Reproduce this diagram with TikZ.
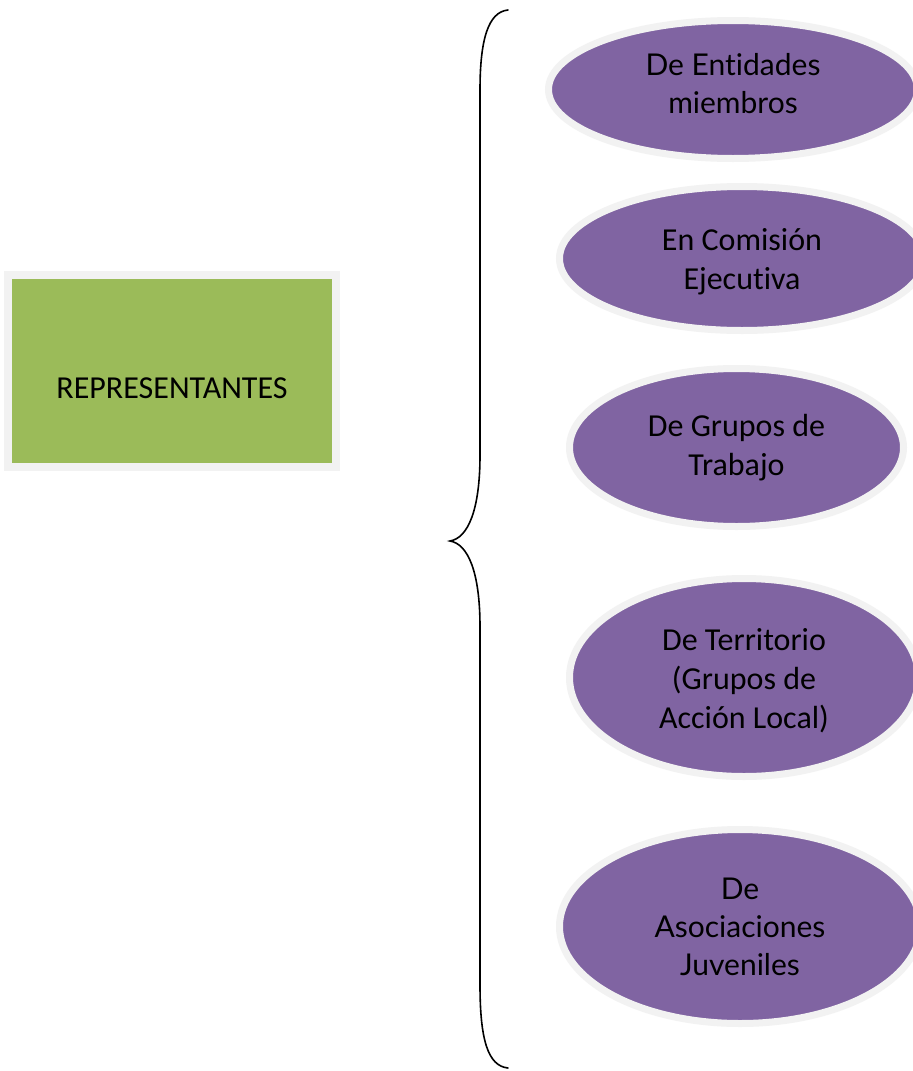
\documentclass[tikz,border=0pt]{standalone}
\usepackage{fontspec}
\setmainfont[Ligatures={NoCommon}]{Carlito}
\newfontfamily\gillish[Ligatures={NoCommon}]{Lato}
\usetikzlibrary{shapes.geometric}
\definecolor{purpfill}{HTML}{8064A2}
\definecolor{greenfill}{HTML}{9BBB59}
\definecolor{ringgray}{HTML}{F2F2F2}
\tikzset{
  oval/.style={ellipse, fill=purpfill, draw=ringgray, line width=7pt, inner sep=0pt},
  ovaltext/.style={align=center, text=black, inner sep=0pt, font=\fontsize{32}{39}\selectfont},
  gilltext/.style={ovaltext, font=\gillish\fontsize{30}{38}\selectfont},
  mainbox/.style={rectangle, fill=greenfill, draw=ringgray, line width=8pt, inner sep=0pt},
  bracepath/.style={draw=black, line width=1.6pt, line cap=round}
}
\begin{document}
\begin{tikzpicture}[x=1pt,y=-1pt]
\useasboundingbox (0,0) rectangle (913,1071);
\fill[white] (0,0) rectangle (913,1071);
\clip (0,0) rectangle (913,1071);
% main box
\node[mainbox, minimum width=328pt, minimum height=192pt] (rep) at (172,371) {};
\node[ovaltext, yshift=-17pt] (reptext) at (rep.center) {REPRESENTANTES};
% ovals
\node[oval, minimum width=369pt, minimum height=138pt] (o1) at (733,89.5) {};
\node[gilltext, yshift=6pt] (t1) at (o1.center) {De Entidades\\miembros};
\node[oval, minimum width=365pt, minimum height=144pt] (o2) at (742,258.5) {};
\node[ovaltext, yshift=-3pt] (t2) at (o2.center) {En Comisión\\Ejecutiva};
\node[oval, minimum width=334pt, minimum height=158pt] (o3) at (736.5,447.5) {};
\node[ovaltext] (t3) at (o3.center) {De Grupos de\\Trabajo};
\node[oval, minimum width=349pt, minimum height=198pt] (o4) at (744,677.5) {};
\node[ovaltext, yshift=-3pt] (t4) at (o4.center) {De Territorio\\(Grupos de\\Acción Local)};
\node[oval, minimum width=361pt, minimum height=194pt] (o5) at (740,926.5) {};
\node[gilltext] (t5) at (o5.center) {De\\Asociaciones\\Juveniles};
% brace
\coordinate (btop) at (508,10);
\coordinate (btip) at (450,541);
\coordinate (bbot) at (508,1068);
\draw[bracepath] (btop) .. controls (488,12) and (480,40) .. (480,90) -- (480,455)
  .. controls (480,510) and (468,538) .. (btip)
  .. controls (468,544) and (480,572) .. (480,627) -- (480,985)
  .. controls (480,1040) and (488,1066) .. (bbot);
\end{tikzpicture}
\end{document}
